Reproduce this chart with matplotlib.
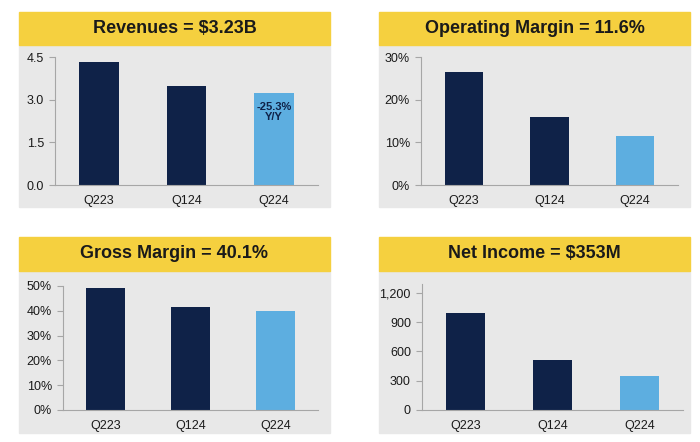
import matplotlib.pyplot as plt
from matplotlib.patches import Rectangle
from matplotlib.ticker import FuncFormatter

plt.rcParams["font.family"] = ["Liberation Sans", "DejaVu Sans"]

categories = ["Q223", "Q124", "Q224"]
revenue = [4.33, 3.47, 3.23]
op_margin = [26.6, 16.0, 11.6]
gross_margin = [49.1, 41.6, 40.1]
net_income = [996, 510, 353]

titles = ["Revenues = $3.23B", "Operating Margin = 11.6%",
          "Gross Margin = 40.1%", "Net Income = $353M"]

NAVY = "#0f2248"
LIGHT = "#5daee0"
YELLOW = "#f5d03f"
GRAY = "#e8e8e8"
TEXT = "#1a1a1a"

W, H = 700, 442


def fx(px):
    return px / W


def fy(py):
    return 1 - py / H


fig = plt.figure(figsize=(7, 4.42), dpi=100)
fig.patch.set_facecolor("white")

# panel boxes in pixels: (left, right, header_top, header_bottom, panel_bottom)
panels = [
    (19, 330, 12, 45, 207),
    (379, 690, 12, 45, 207),
    (19, 330, 237, 271, 433),
    (379, 690, 237, 271, 433),
]
# axes rects in pixels: (left, right, top, bottom)
axes_px = [
    (55, 318, 57, 185),
    (421, 678, 57, 185),
    (63, 318, 286, 410),
    (422, 683, 284, 410),
]

for (l, r, ht, hb, pb), title in zip(panels, titles):
    fig.patches.append(Rectangle((fx(l), fy(pb)), fx(r - l), (pb - hb) / H,
                                 transform=fig.transFigure, color=GRAY, zorder=-10))
    fig.patches.append(Rectangle((fx(l), fy(hb)), fx(r - l), (hb - ht) / H,
                                 transform=fig.transFigure, color=YELLOW, zorder=-10))
    fig.text(fx((l + r) / 2), fy((ht + hb) / 2), title, ha="center", va="center",
             fontsize=13, fontweight="bold", color=TEXT)

series = [revenue, op_margin, gross_margin, net_income]
ylims = [(0, 4.5), (0, 30), (0, 50), (0, 1290)]
yticks = [[0, 1.5, 3.0, 4.5], [0, 10, 20, 30], [0, 10, 20, 30, 40, 50],
          [0, 300, 600, 900, 1200]]
fmts = [lambda v, p: f"{v:.1f}", lambda v, p: f"{v:.0f}%",
        lambda v, p: f"{v:.0f}%", lambda v, p: f"{v:,.0f}"]

for i, (l, r, t, b) in enumerate(axes_px):
    ax = fig.add_axes([fx(l), fy(b), fx(r - l), (b - t) / H])
    ax.set_facecolor("none")
    colors = [NAVY, NAVY, LIGHT]
    ax.bar(range(3), series[i], width=0.45, color=colors)
    ax.set_xlim(-0.5, 2.5)
    ax.set_ylim(*ylims[i])
    ax.set_yticks(yticks[i])
    ax.yaxis.set_major_formatter(FuncFormatter(fmts[i]))
    ax.set_xticks(range(3))
    ax.set_xticklabels(categories)
    for s in ["top", "right"]:
        ax.spines[s].set_visible(False)
    for s in ["left", "bottom"]:
        ax.spines[s].set_color("#a6a6a6")
        ax.spines[s].set_linewidth(0.8)
    ax.tick_params(axis="y", length=4, color="#a6a6a6", labelsize=9, labelcolor=TEXT, pad=4)
    ax.tick_params(axis="x", length=0, labelsize=9, labelcolor=TEXT, pad=7)
    if i == 0:
        ax.text(2, 2.93, "-25.3%\nY/Y", ha="center", va="top", fontsize=8,
                fontweight="bold", color=NAVY, linespacing=1.1)

fig.savefig("out.png", dpi=100)
